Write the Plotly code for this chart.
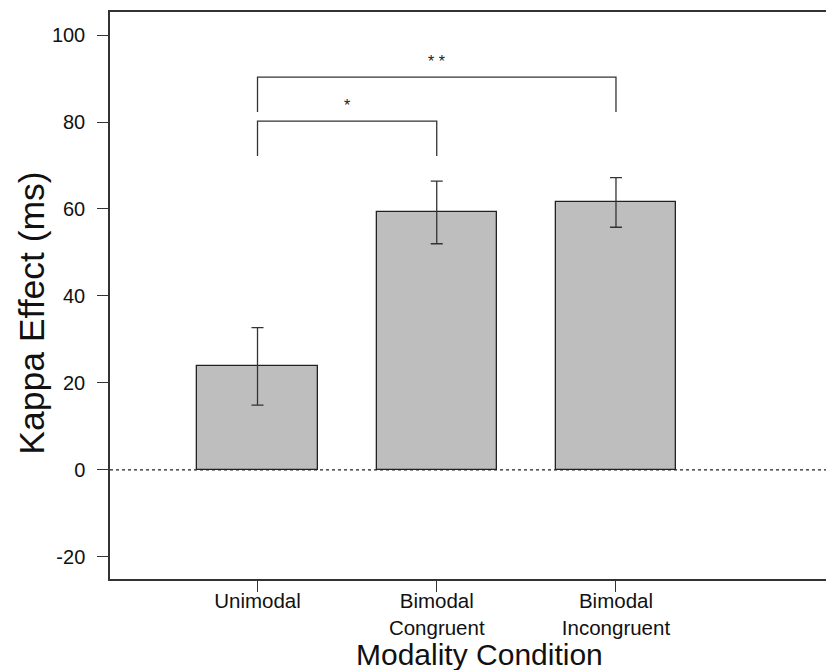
import plotly.graph_objects as go

categories = ["Unimodal", "Bimodal<br>Congruent", "Bimodal<br>Incongruent"]
means = [23.8, 59.2, 61.5]
errors = [8.9, 7.2, 5.7]
y_ticks = [-20, 0, 20, 40, 60, 80, 100]
y_tick_text = ["-20", "0", "20", "40", "60", "80", "100"]

# significance brackets: (from category, to category, bracket height, label)
bracket_from = [0, 0]
bracket_to = [1, 2]
bracket_height = [80.2, 90.3]
bracket_drop = [8, 8]
bracket_label = ["*", "* *"]

FONT = "Liberation Sans, Arial, sans-serif"
INK = "#333333"

xpos = list(range(len(categories)))
fig = go.Figure()
fig.add_trace(go.Bar(
    x=xpos, y=means, width=0.67,
    marker=dict(color="#bebebe", line=dict(color="#222222", width=1.3)),
    error_y=dict(type="data", array=errors, visible=True, color=INK, thickness=1.3, width=6),
    showlegend=False, hoverinfo="skip",
))

for a, b, h, d, lab in zip(bracket_from, bracket_to, bracket_height, bracket_drop, bracket_label):
    fig.add_trace(go.Scatter(
        x=[a, a, b, b], y=[h - d, h, h, h - d], mode="lines",
        line=dict(color=INK, width=1.3), showlegend=False, hoverinfo="skip",
    ))
    fig.add_annotation(x=(a + b) / 2, y=h + 3.6, text=lab, showarrow=False,
                       font=dict(family=FONT, size=16, color="#222222"),
                       xanchor="center", yanchor="middle")

# dotted zero reference line
fig.add_shape(type="line", xref="paper", x0=0, x1=1, yref="y", y0=0, y1=0,
              line=dict(color="#222222", width=1.2, dash="dot"), layer="above")

# axis titles
fig.add_annotation(xref="paper", yref="paper", x=0.509, y=-0.134, text="Modality Condition",
                   showarrow=False, xanchor="center", yanchor="middle",
                   font=dict(family=FONT, size=30, color="#111111"))
fig.add_annotation(xref="paper", yref="paper", x=-0.108, y=0.469, text="Kappa Effect (ms)",
                   showarrow=False, xanchor="center", yanchor="middle", textangle=-90,
                   font=dict(family=FONT, size=35.5, color="#111111"))

fig.update_layout(
    width=827, height=663,
    margin=dict(l=102, r=0, t=4, b=92),
    plot_bgcolor="white", paper_bgcolor="white",
    font=dict(family=FONT, color="black"),
    bargap=0,
    xaxis=dict(
        range=[-0.823, 3.222], tickmode="array", tickvals=xpos, ticktext=categories,
        ticks="outside", ticklen=11, tickcolor=INK, tickwidth=1.2,
        showline=True, linecolor=INK, linewidth=1.5, mirror=True,
        showgrid=False, zeroline=False, tickfont=dict(size=20.5, color="#111111"),
        automargin=False, ticklabelstandoff=-8,
    ),
    yaxis=dict(
        range=[-25.1, 105.3], tickmode="array", tickvals=y_ticks, ticktext=y_tick_text,
        ticks="outside", ticklen=11, tickcolor=INK, tickwidth=1.2,
        showline=True, linecolor=INK, linewidth=1.5, mirror=False,
        showgrid=False, zeroline=False, tickfont=dict(size=20, color="#111111"),
        automargin=False, ticklabelstandoff=8,
    ),
)

fig.write_html("out.html")
